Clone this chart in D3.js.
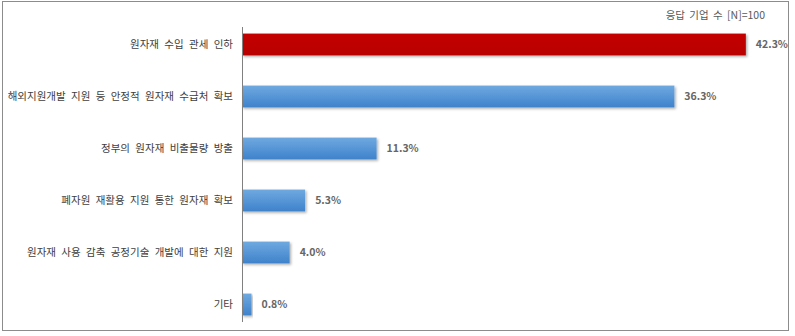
<!DOCTYPE html>
<html>
<head>
<meta charset="utf-8">
<script src="https://cdn.jsdelivr.net/npm/d3@7"></script>
<style>
  body { margin: 0; background: #fff; }
  text { font-family: "Noto Sans CJK KR", "Noto Sans", sans-serif; }
</style>
</head>
<body>
<script>
// categories and values
var categories = [
    "원자재 수입 관세 인하",
    "해외지원개발 지원 등 안정적 원자재 수급처 확보",
    "정부의 원자재 비출물량 방출",
    "폐자원 재활용 지원 통한 원자재 확보",
    "원자재 사용 감축 공정기술 개발에 대한 지원",
    "기타"
];
var values = [42.3, 36.3, 11.3, 5.3, 4.0, 0.8];
var note = "응답 기업 수 [N]=100";

var width = 795, height = 336;

var svg = d3.select("body")
    .append("svg")
    .attr("width", width)
    .attr("height", height);

// gradients for bars
var defs = svg.append("defs");
var gBlue = defs.append("linearGradient").attr("id", "gBlue")
    .attr("x1", 0).attr("y1", 0).attr("x2", 0).attr("y2", 1);
gBlue.append("stop").attr("offset", "0%").attr("stop-color", "#6fa9e0");
gBlue.append("stop").attr("offset", "100%").attr("stop-color", "#3f82cb");
var gRed = defs.append("linearGradient").attr("id", "gRed")
    .attr("x1", 0).attr("y1", 0).attr("x2", 0).attr("y2", 1);
gRed.append("stop").attr("offset", "0%").attr("stop-color", "#c40000");
gRed.append("stop").attr("offset", "100%").attr("stop-color", "#b80000");
var shadow = defs.append("filter").attr("id", "shadow")
    .attr("x", "-5%").attr("y", "-20%").attr("width", "115%").attr("height", "160%");
shadow.append("feDropShadow").attr("dx", 1.5).attr("dy", 1.5)
    .attr("stdDeviation", 1.2).attr("flood-color", "#000").attr("flood-opacity", 0.3);

// frame
svg.append("rect")
    .attr("x", 2.5).attr("y", 1.5)
    .attr("width", 786).attr("height", 329)
    .style("fill", "none")
    .style("stroke", "#8c8c8c")
    .style("stroke-width", 1);

var x = d3.scaleLinear().domain([0, 45]).range([242, 778]);
var y = d3.scaleBand().domain(categories).range([18.5, 330.5])
    .paddingInner(0.58).paddingOuter(0.29);

// bars
svg.selectAll(".bar")
    .data(values)
    .enter().append("rect")
    .attr("class", "bar")
    .attr("x", x(0))
    .attr("y", function (d, i) { return y(categories[i]); })
    .attr("width", function (d) { return x(d) - x(0); })
    .attr("height", y.bandwidth())
    .attr("filter", "url(#shadow)")
    .style("fill", function (d, i) { return i === 0 ? "url(#gRed)" : "url(#gBlue)"; });

// category axis line
svg.append("line")
    .attr("x1", x(0) + 0.5).attr("x2", x(0) + 0.5)
    .attr("y1", 27).attr("y2", 322)
    .style("stroke", "#808080")
    .style("stroke-width", 1);

// category labels
svg.selectAll(".cat")
    .data(categories)
    .enter().append("text")
    .attr("class", "cat")
    .attr("x", 233)
    .attr("y", function (d) { return y(d) + y.bandwidth() / 2; })
    .attr("dy", "0.35em")
    .attr("text-anchor", "end")
    .style("font-size", "10.5px")
    .style("word-spacing", "3px")
    .style("fill", "#404040")
    .text(function (d) { return d; });

// value labels
svg.selectAll(".val")
    .data(values)
    .enter().append("text")
    .attr("class", "val")
    .attr("x", function (d) { return x(d) + 10; })
    .attr("y", function (d, i) { return y(categories[i]) + y.bandwidth() / 2; })
    .attr("dy", "0.35em")
    .style("font-size", "10.5px")
    .style("font-weight", "bold")
    .style("fill", "#666666")
    .text(function (d) { return d.toFixed(1) + "%"; });

// sample size note
svg.append("text")
    .attr("x", 765)
    .attr("y", 15)
    .attr("dy", "0.35em")
    .attr("text-anchor", "end")
    .style("font-size", "10.5px")
    .style("word-spacing", "2px")
    .style("fill", "#595959")
    .text(note);
</script>
</body>
</html>
